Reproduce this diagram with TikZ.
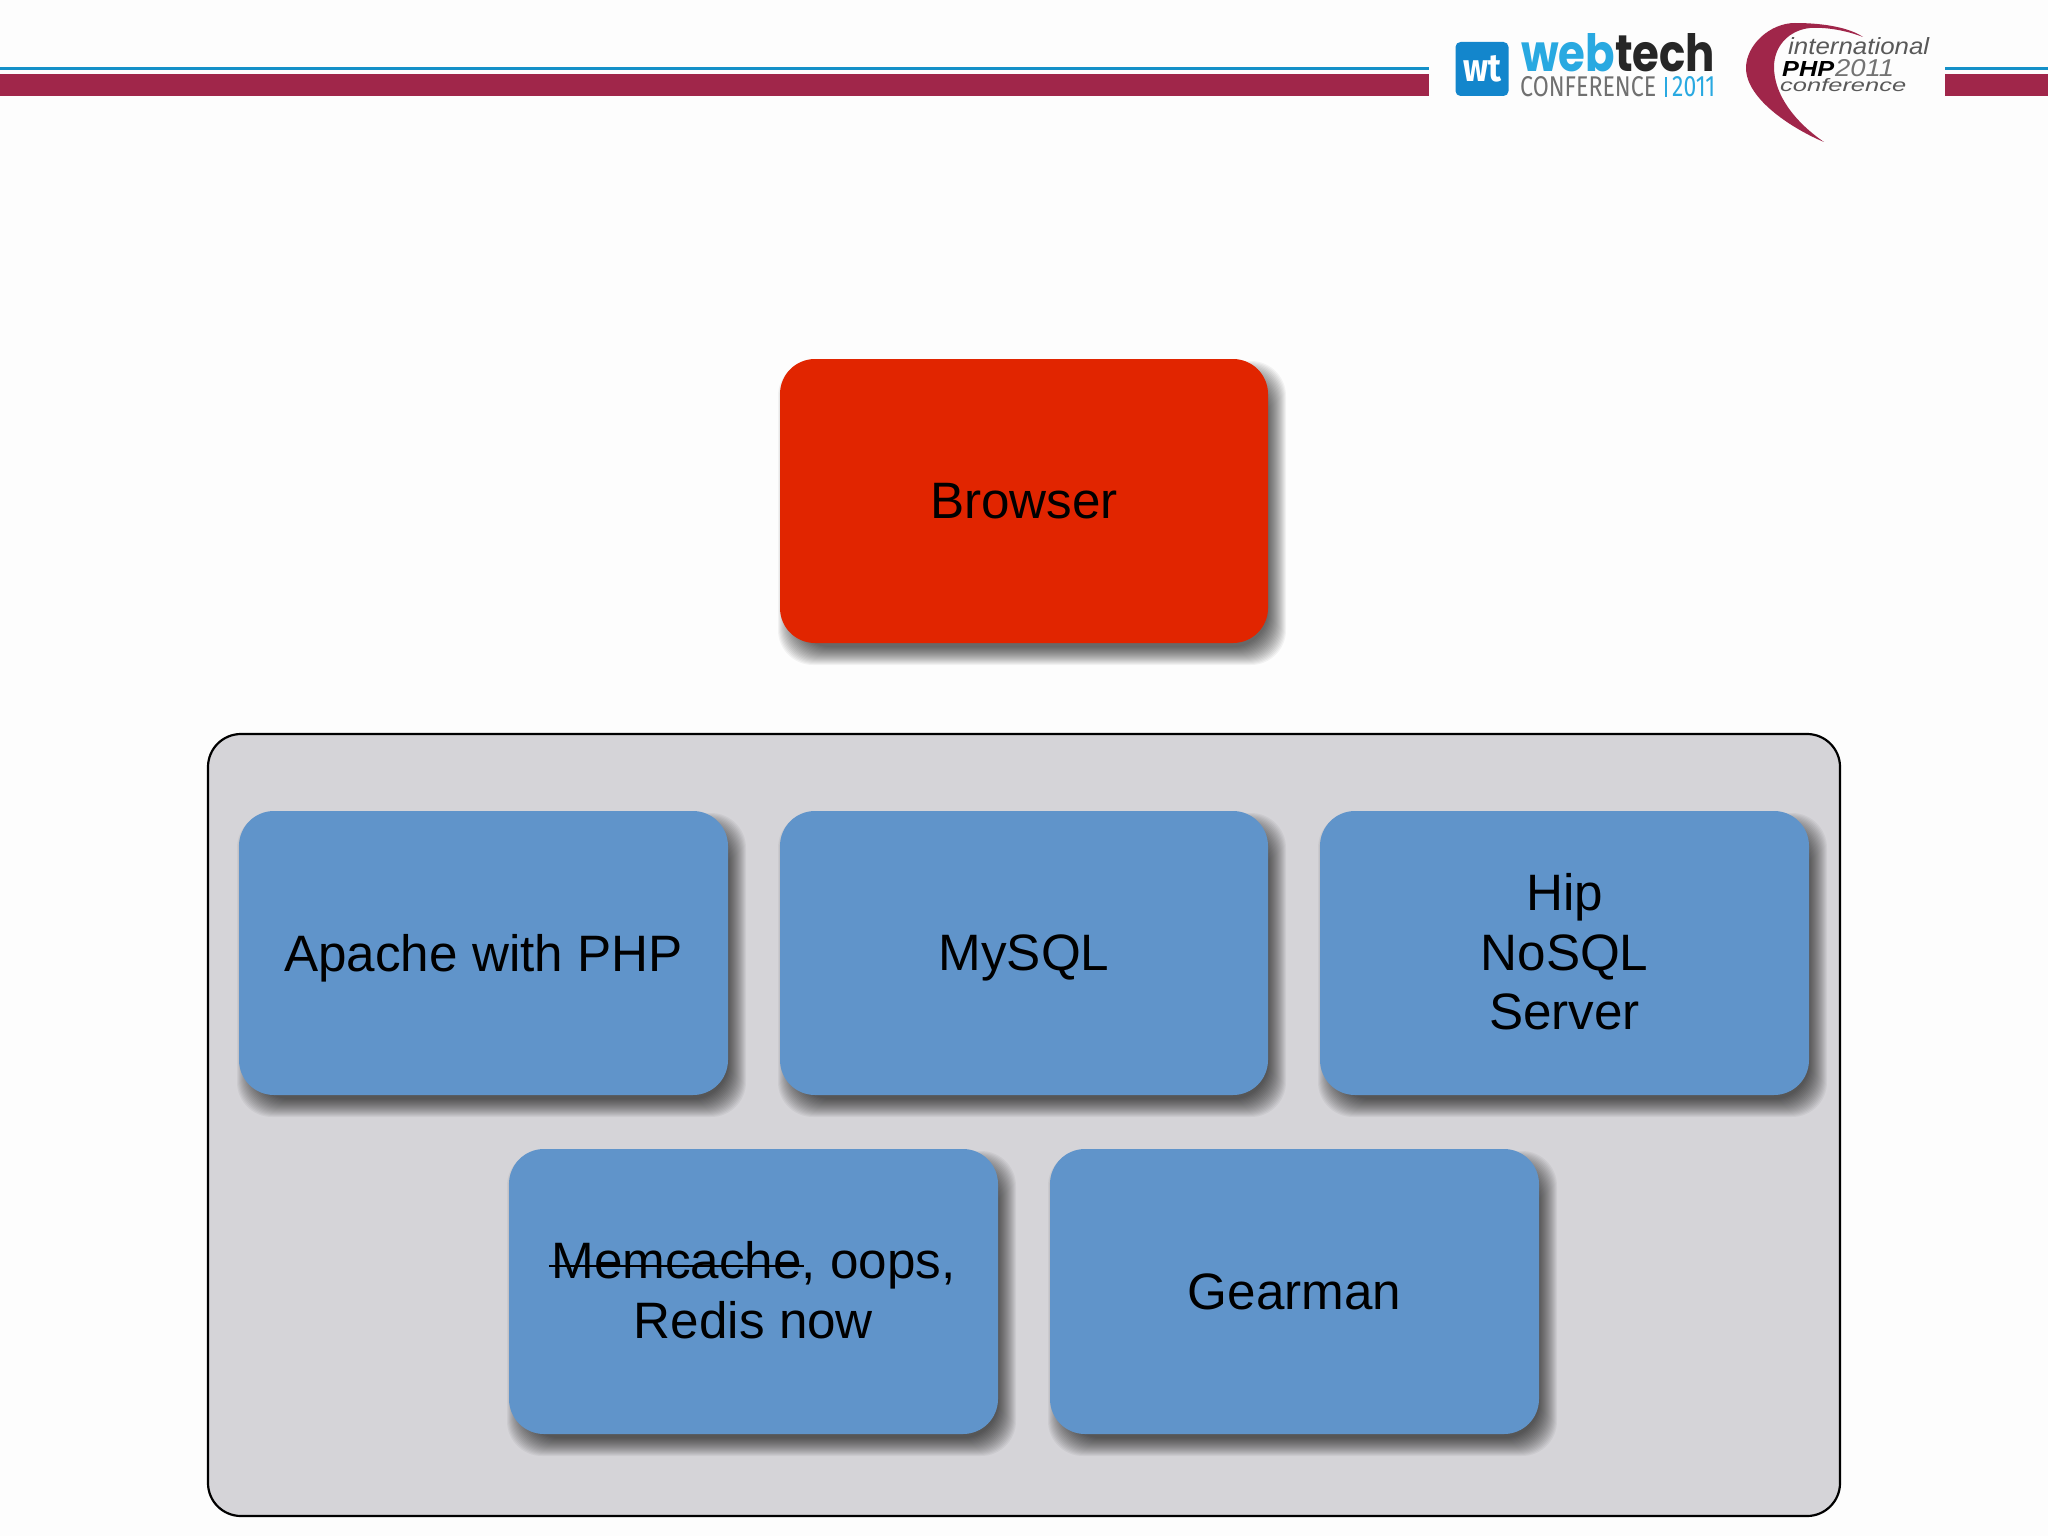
\documentclass[tikz,border=0pt]{standalone}
\usepackage{fontspec}
\setmainfont{Liberation Sans}
\newfontfamily\logofont{Fira Sans}
\newfontfamily\wordfont{Poppins}
\definecolor{pagebg}{HTML}{FDFDFD}
\definecolor{crim}{HTML}{A0264A}
\definecolor{rule}{HTML}{1490C8}
\definecolor{redbox}{HTML}{E12500}
\definecolor{bluebox}{HTML}{6094CA}
\definecolor{panel}{HTML}{D5D4D8}
\definecolor{webblue}{HTML}{29A9E1}
\definecolor{logoblue}{HTML}{1386CC}
\definecolor{logogray}{HTML}{707070}
\newcommand{\strk}[1]{\setbox0\hbox{#1}\rlap{\kern-2pt\rule[12pt]{\dimexpr\wd0+4pt\relax}{2.2pt}}\box0 }
\newcommand{\nodepth}[1]{\raisebox{0pt}[\height][0pt]{#1}}
\newcommand{\upstrut}{\rule[-3pt]{0pt}{3pt}}
\newcommand{\shadowed}[7]{% name, x1,y1,x2,y2, style, text
  \foreach \e in {-8,-7,...,10}{
    \fill[black,fill opacity=0.042,rounded corners=35pt]
      ({#2+8-\e},{#3+12-\e}) rectangle ({#4+8+\e},{#5+12+\e});
  }
  \node[#6,minimum width={(#4)-(#2)},minimum height={(#5)-(#3)}] (#1)
     at ({((#2)+(#4))/2},{((#3)+(#5))/2}) {#7};
}
\tikzset{
  boxbase/.style={rounded corners=35pt,inner sep=0pt,align=center,text=black,
    font=\fontsize{51.2}{59.5}\selectfont},
  redstyle/.style={boxbase,fill=redbox},
  bluestyle/.style={boxbase,fill=bluebox},
  logotext/.style={inner sep=0pt,anchor=base west},
}
\begin{document}
\begin{tikzpicture}[x=1pt,y=-1pt]
\useasboundingbox (0,0) rectangle (2048,1536);
\fill[pagebg] (0,0) rectangle (2048,1536);
% header rules
\fill[rule] (0,67) rectangle (1429,70);
\fill[crim] (0,74) rectangle (1429,96.5);
\fill[rule] (1945,67) rectangle (2048,70);
\fill[crim] (1945,74) rectangle (2048,96.5);
% webtech logo
\node[fill=logoblue,rounded corners=5pt,minimum width=53pt,minimum height=54pt,inner sep=0pt,text=white] (wtmark) at (1482,69)
  {\resizebox{38pt}{26pt}{\logofont\bfseries wt}};
\node[logotext] (webword) at (1521,72) {\resizebox{194pt}{38pt}{\wordfont\bfseries\textcolor{webblue}{web}\textcolor{black!85}{tech}}};
\node[logotext] (confword) at (1520,97) {\resizebox{136pt}{20pt}{\logofont\textcolor{logogray}{CONFERENCE}}};
\node[logotext] (conf2011) at (1672,97) {\resizebox{43pt}{20pt}{\logofont\textcolor{webblue}{2011}}};
\fill[webblue] (1665,77) rectangle (1666.5,97);
% PHP logo
\fill[crim] (1824,142) .. controls (1795,130) and (1746,100) .. (1746,68)
  .. controls (1746,45) and (1770,23) .. (1795,23)
  .. controls (1825,23) and (1850,28) .. (1863,37)
  .. controls (1845,30) and (1825,27) .. (1810,28)
  .. controls (1790,30) and (1774,45) .. (1774,67)
  .. controls (1774,95) and (1795,122) .. (1824,142) -- cycle;
\node[logotext,text=black!65] (phpintl) at (1788,55) {\resizebox{141pt}{17pt}{\itshape international}};
\node[logotext,text=black] (phpword) at (1782,77) {\resizebox{52pt}{15pt}{\bfseries\itshape PHP}};
\node[logotext,text=black!55] (phpyear) at (1835,77) {\resizebox{59pt}{17pt}{\itshape 2011}};
\node[logotext,text=black!65] (phpconf) at (1780,92) {\resizebox{126pt}{13pt}{\itshape conference}};
% browser
\shadowed{browser}{780}{359}{1268}{643}{redstyle}{Browser}
% panel
\node[draw=black,line width=2.2pt,fill=panel,rounded corners=33pt,minimum width=1632pt,minimum height=782pt,inner sep=0pt] (panelbox) at (1024,1125) {};
% row 1
\shadowed{apache}{239}{811}{728}{1095}{bluestyle}{\nodepth{Apache with PHP}}
\shadowed{mysql}{780}{811}{1268}{1095}{bluestyle}{\nodepth{MySQL}}
\shadowed{hip}{1320}{811}{1809}{1095}{bluestyle}{Hip\\NoSQL\\Server\upstrut}
% row 2
\shadowed{memcache}{509}{1149}{998}{1434}{bluestyle}{\strk{Memcache}, oops,\\Redis now\upstrut}
\shadowed{gearman}{1050}{1149}{1539}{1434}{bluestyle}{Gearman}
\end{tikzpicture}
\end{document}
